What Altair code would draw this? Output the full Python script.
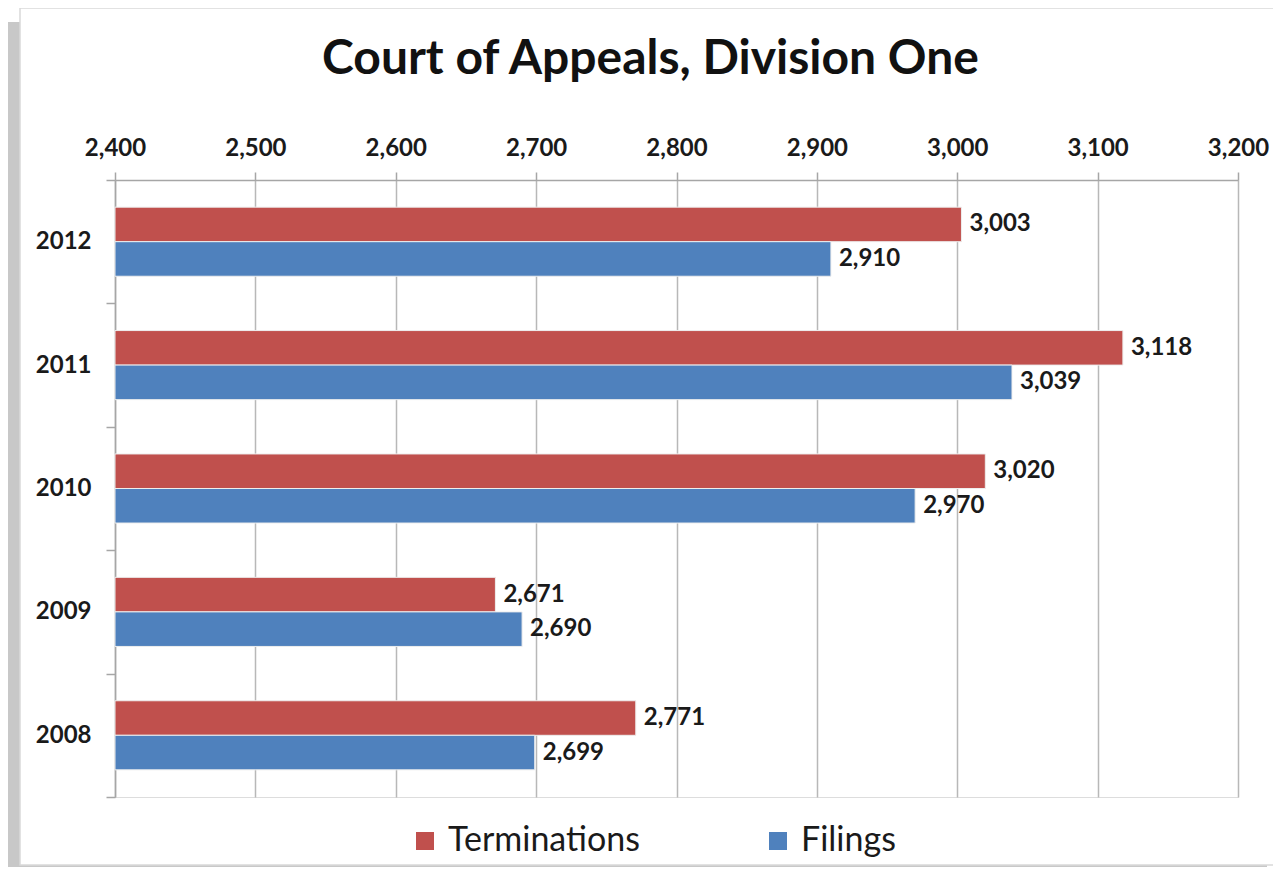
import altair as alt
import pandas as pd

years = ["2012", "2011", "2010", "2009", "2008"]
terminations = [3003, 3118, 3020, 2671, 2771]
filings = [2910, 3039, 2970, 2690, 2699]
series = ["Terminations", "Filings"]
colors = ["#C0504D", "#4F81BD"]
x_ticks = [2400, 2500, 2600, 2700, 2800, 2900, 3000, 3100, 3200]

rows = []
for i, yr in enumerate(years):
    rows.append({"year": yr, "series": "Terminations", "value": terminations[i]})
    rows.append({"year": yr, "series": "Filings", "value": filings[i]})
df = pd.DataFrame(rows)

FONT = "Lato"
W, H = 1123, 617

x_enc = alt.X(
    "value:Q",
    scale=alt.Scale(domain=[2400, 3200], nice=False, zero=False),
    axis=alt.Axis(
        orient="top", values=x_ticks, format=",.0f", title=None, labelFlush=False,
        labelFont=FONT, labelFontSize=24, labelFontWeight="bold", labelColor="#1a1a1a",
        labelPadding=12, tickSize=8, tickColor="#a6a6a6", domainColor="#a6a6a6",
        domainWidth=1.5, tickWidth=1.5,
        grid=True, gridColor="#b8b8b8", gridWidth=1.5,
    ),
)
y_enc = alt.Y(
    "year:N", sort=years,
    scale=alt.Scale(paddingInner=0, paddingOuter=0),
    axis=alt.Axis(
        title=None, labelFont=FONT, labelFontSize=24, labelFontWeight="bold",
        labelColor="#1a1a1a", labelPadding=15, tickSize=9, tickBand="extent",
        tickColor="#a6a6a6", domainColor="#a6a6a6", domainWidth=1.5, tickWidth=1.5,
        grid=False,
    ),
)
yoff = alt.YOffset("series:N", sort=series, scale=alt.Scale(paddingInner=0, paddingOuter=0.786))

one = pd.DataFrame([{"k": 1}])
shadow_left = alt.Chart(one).mark_rect(fill="#c8c8c8").encode(
    x=alt.value(-107), x2=alt.value(-95), y=alt.value(-158), y2=alt.value(695)
)
shadow_bottom = alt.Chart(one).mark_rect(fill="#c8c8c8").encode(
    x=alt.value(-107), x2=alt.value(1152), y=alt.value(685), y2=alt.value(695)
)
frame = alt.Chart(one).mark_rect(fill=None, stroke="#d9d9d9", strokeWidth=1.5).encode(
    x=alt.value(-95), x2=alt.value(1160), y=alt.value(-172), y2=alt.value(685)
)

bars = alt.Chart(df).mark_bar(stroke="#eeeeee", strokeWidth=1).encode(
    x=x_enc,
    x2=alt.datum(2400),
    y=y_enc,
    yOffset=yoff,
    color=alt.Color(
        "series:N", sort=series,
        scale=alt.Scale(domain=series, range=colors),
        legend=alt.Legend(
            title=None, orient="none", legendX=293, legendY=644, direction="horizontal",
            symbolType="square", symbolSize=324, symbolStrokeWidth=0,
            labelFont=FONT, labelFontSize=34, labelColor="#1a1a1a",
            columnPadding=121, labelOffset=6, labelLimit=400,
        ),
    ),
)
labels = alt.Chart(df).mark_text(
    align="left", baseline="middle", dx=8, font=FONT, fontSize=24,
    fontWeight="bold", color="#1a1a1a",
).encode(
    x=x_enc,
    y=y_enc,
    yOffset=yoff,
    text=alt.Text("value:Q", format=","),
)

chart = alt.layer(shadow_left, shadow_bottom, frame, bars, labels).properties(
    width=W, height=H,
    autosize=alt.AutoSizeParams(type="none"),
    padding={"left": 107, "top": 172, "right": 35, "bottom": 70},
    title=alt.TitleParams(
        "Court of Appeals, Division One", font=FONT, fontSize=48, fontWeight="bold",
        color="#111111", anchor="middle", dx=-26, offset=-115, baseline="alphabetic",
    ),
).configure_view(stroke=None).configure(background="white")

chart.save("out.html", embed_options={"renderer": "svg", "actions": False})
